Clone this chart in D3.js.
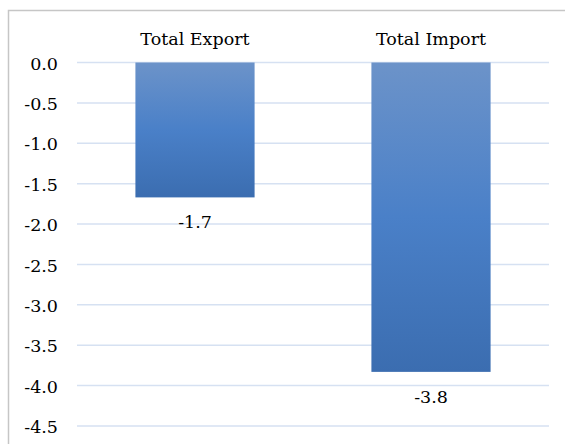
<!DOCTYPE html>
<html>
<head>
<meta charset="utf-8">
<script src="https://cdn.jsdelivr.net/npm/d3@7"></script>
<style>
  html, body { margin: 0; padding: 0; background: #fff; }
  svg { display: block; }
  svg text { font-family: "DejaVu Serif", serif !important; }
</style>
</head>
<body>
<svg id="chart" width="565" height="444"></svg>
<script>
// Trade change by flow
const categories = ["Total Export", "Total Import"];
const values = [-1.67, -3.83];
const yTicks = [0, -0.5, -1, -1.5, -2, -2.5, -3, -3.5, -4, -4.5];

const svg = d3.select("#chart");
const W = 565, H = 444;
const plot = { left: 77, right: 549, top: 62.5, bottom: 426 };
const fontSize = 17.5;

// Outer frame (top and left edges visible; the rest runs off the canvas)
svg.append("path")
  .attr("d", `M8.5,${H} L8.5,10.5 L${W},10.5`)
  .attr("fill", "none")
  .attr("stroke", "#c6c6c6")
  .attr("stroke-width", 1.5);

const y = d3.scaleLinear().domain([0, -4.5]).range([plot.top, plot.bottom]);
const x = d3.scaleBand().domain(categories).range([plot.left, plot.right])
  .paddingInner(0.495).paddingOuter(0.2475);

// Bar fill gradient
const defs = svg.append("defs");
const grad = defs.append("linearGradient")
  .attr("id", "barGrad").attr("x1", 0).attr("y1", 0).attr("x2", 0).attr("y2", 1);
grad.append("stop").attr("offset", "0%").attr("stop-color", "#6c93c9");
grad.append("stop").attr("offset", "50%").attr("stop-color", "#4a80c8");
grad.append("stop").attr("offset", "100%").attr("stop-color", "#3b6db0");

// Gridlines
svg.append("g")
  .selectAll("line")
  .data(yTicks)
  .join("line")
  .attr("x1", plot.left).attr("x2", plot.right)
  .attr("y1", d => y(d)).attr("y2", d => y(d))
  .attr("stroke", "#d6e1f2")
  .attr("stroke-width", 1.5);

// Y axis labels
const yAxis = d3.axisLeft(y).tickValues(yTicks).tickFormat(d3.format(".1f")).tickSize(0).tickPadding(0);
const gy = svg.append("g").attr("transform", "translate(58,0)").call(yAxis);
gy.select(".domain").remove();
gy.attr("font-family", null).attr("font-size", null);
gy.selectAll("text")
  .attr("font-size", fontSize)
  .attr("fill", "#000")
  .attr("dy", "0.38em")
  .text(d => d3.format(".1f")(d).replace("−", "-"));

// Bars
const bw = x.bandwidth();
svg.append("g")
  .selectAll("rect")
  .data(categories.map((c, i) => ({ c, v: values[i] })))
  .join("rect")
  .attr("x", d => x(d.c))
  .attr("width", bw)
  .attr("y", d => y(0))
  .attr("height", d => y(d.v) - y(0))
  .attr("fill", "url(#barGrad)");

// Category labels across the top
svg.append("g")
  .selectAll("text")
  .data(categories)
  .join("text")
  .attr("x", d => x(d) + bw / 2)
  .attr("y", 45)
  .attr("text-anchor", "middle")
  .attr("font-size", fontSize)
  .attr("fill", "#000")
  .text(d => d);

// Value labels under each bar
svg.append("g")
  .selectAll("text")
  .data(categories.map((c, i) => ({ c, v: values[i] })))
  .join("text")
  .attr("x", d => x(d.c) + bw / 2)
  .attr("y", d => y(d.v) + 31)
  .attr("text-anchor", "middle")
  .attr("font-size", fontSize)
  .attr("fill", "#000")
  .text(d => d.v.toFixed(1));
</script>
</body>
</html>
